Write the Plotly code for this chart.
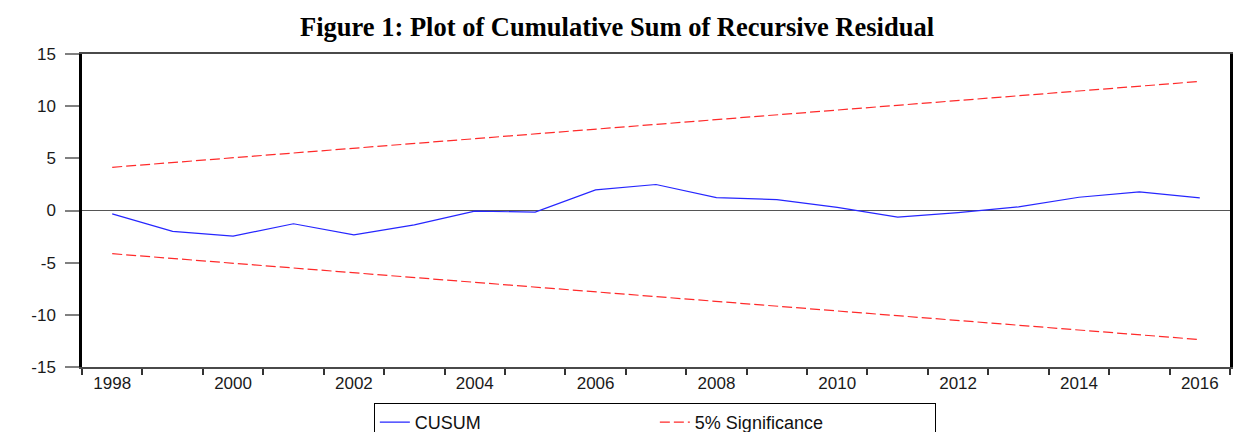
import plotly.graph_objects as go

years = list(range(1998, 2017))
cusum = [-0.32, -2.0, -2.45, -1.27, -2.33, -1.37, -0.06, -0.16, 1.98, 2.49,
         1.24, 1.05, 0.3, -0.64, -0.2, 0.35, 1.27, 1.79, 1.21]
upper = [4.14, 4.60, 5.05, 5.51, 5.97, 6.43, 6.88, 7.34, 7.80, 8.26,
         8.71, 9.17, 9.63, 10.08, 10.54, 11.00, 11.46, 11.91, 12.37]
lower = [-v for v in upper]
label_years = [1998, 2000, 2002, 2004, 2006, 2008, 2010, 2012, 2014, 2016]
y_ticks = [-15, -10, -5, 0, 5, 10, 15]
y_labels = ["-15", "-10", "-5", "0", "5", "10", "15"]

boundaries = [y - 0.5 for y in years] + [years[-1] + 0.5]

fig = go.Figure()
fig.add_trace(go.Scatter(x=years, y=cusum, mode="lines", name="CUSUM",
                         line=dict(color="#2626ff", width=1.2)))
fig.add_trace(go.Scatter(x=years, y=upper, mode="lines", name="5% Significance",
                         line=dict(color="#ff2a2a", width=1.2, dash="10px,4px")))
fig.add_trace(go.Scatter(x=years, y=lower, mode="lines", name="5% Significance",
                         showlegend=False,
                         line=dict(color="#ff2a2a", width=1.2, dash="10px,4px")))

axis_font = dict(family="Liberation Sans, Arial", size=17, color="#1a1a1a")

W, H = 1236, 424
fig.update_layout(
    width=W, height=H,
    margin=dict(l=74, r=14, t=46, b=65, autoexpand=False),
    paper_bgcolor="white", plot_bgcolor="white",
    title=dict(text="<b>Figure 1: Plot of Cumulative Sum of Recursive Residual</b>",
               font=dict(family="Liberation Serif, Times New Roman", size=26.5, color="black"),
               x=(617 - 8) / W, xref="container", xanchor="center",
               y=1 - 19 / H, yref="container", yanchor="middle"),
    showlegend=True,
    legend=dict(orientation="h", x=0.499, xanchor="center", xref="paper",
                y=-0.115, yanchor="top",
                bordercolor="black", borderwidth=1, bgcolor="white",
                font=dict(family="Liberation Sans, Arial", size=18, color="#111"),
                entrywidth=235, entrywidthmode="pixels"),
    xaxis=dict(range=[1997.5, 2016.5], tickvals=label_years,
               ticktext=[str(v) for v in label_years],
               ticks="", showgrid=False, zeroline=False,
               showline=True, linecolor="#4a4a4a", linewidth=1.5, mirror=True,
               tickfont=axis_font, ticklabelstandoff=0,
               minor=dict(tickvals=boundaries, ticks="outside", ticklen=6,
                          tickcolor="#333", tickwidth=1.5, showgrid=False)),
    yaxis=dict(range=[-15, 15], tickvals=y_ticks, ticktext=y_labels,
               ticks="outside", ticklen=14, tickcolor="#808080", tickwidth=1.5,
               showgrid=False, zeroline=True, zerolinecolor="#555555", zerolinewidth=1,
               showline=True, linecolor="black", linewidth=2.5, mirror=True,
               tickfont=axis_font, ticklabelstandoff=6),
)

fig.write_html("out.html")
